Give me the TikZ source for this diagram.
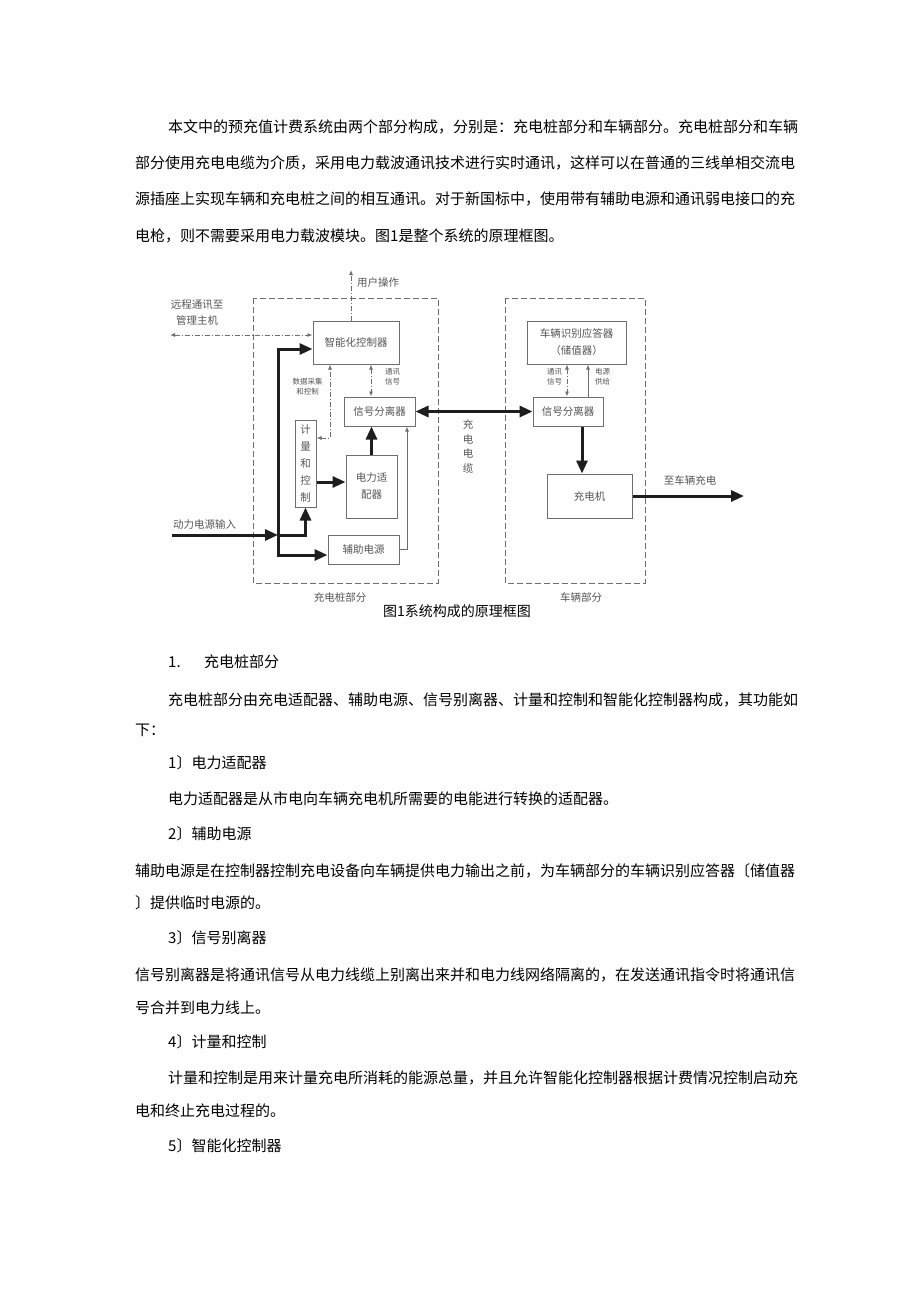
\documentclass[tikz,border=0pt]{standalone}
\usepackage{fontspec}
\setmainfont{Noto Sans CJK SC}
\usepackage{xcolor}
\usepackage{tikz}
\usetikzlibrary{arrows.meta}

\definecolor{linegray}{HTML}{6E6E6E}
\definecolor{textgray}{HTML}{555555}
\definecolor{darkline}{HTML}{1E1E1E}
\newcommand{\bodytext}{\fontsize{15}{18}\selectfont}
\newcommand{\diagtext}{\fontsize{10.5}{17}\selectfont}
\newcommand{\cabletext}{\fontsize{10.5}{14.5}\selectfont}
\newcommand{\notetext}{\fontsize{7.5}{10}\selectfont}
\newcommand{\captext}{\fontsize{14}{17}\selectfont}

\begin{document}
\begin{tikzpicture}[x=1pt,y=-1pt,
  bigtip/.tip={Triangle[length=13pt,width=11pt]},
  smalltip/.tip={Latex[length=5pt,width=4pt]},
  box/.style={draw=linegray,line width=1pt,inner sep=0pt,text=textgray,font=\diagtext,align=center},
  part/.style={draw=linegray,line width=1pt,dash pattern=on 6pt off 3pt},
  power/.style={draw=darkline,line width=3pt},
  commline/.style={draw=linegray,line width=0.9pt,dash pattern=on 5pt off 2pt on 1pt off 2pt},
  supply/.style={draw=linegray,line width=0.9pt},
  diaglabel/.style={text=textgray,font=\diagtext,inner sep=0pt,align=center},
  note/.style={text=textgray,font=\notetext,inner sep=0pt,align=center},
  para/.style={anchor=west,inner sep=0pt,font=\bodytext}]
  \path[fill=white] (0,0) rectangle (920,1303);
  \useasboundingbox (0,0) rectangle (920,1303);

  % text above the figure
  \node[para] (p1) at (168,127) {本文中的预充值计费系统由两个部分构成，分别是：充电桩部分和车辆部分。充电桩部分和车辆};
  \node[para] (p2) at (135,163) {部分使用充电电缆为介质，采用电力载波通讯技术进行实时通讯，这样可以在普通的三线单相交流电};
  \node[para] (p3) at (135,199) {源插座上实现车辆和充电桩之间的相互通讯。对于新国标中，使用带有辅助电源和通讯弱电接口的充};
  \node[para] (p4) at (135,236) {电枪，则不需要采用电力载波模块。图1是整个系统的原理框图。};

  % the two parts
  \draw[part] (253,298) rectangle (438,583);
  \draw[part] (505,298) rectangle (645,583);
  \node[diaglabel] (pilepart) at (340,597) {充电桩部分};
  \node[diaglabel] (carpart) at (581,597) {车辆部分};

  % boxes
  \node[box,minimum width=86pt,minimum height=43pt] (ctrl) at (356,342.5) {智能化控制器};
  \node[box,minimum width=71pt,minimum height=29pt] (sepL) at (379.5,411.5) {信号分离器};
  \node[box,minimum width=21pt,minimum height=87pt] (meter) at (305.5,463.5) {计\\量\\和\\控\\制};
  \node[box,minimum width=51pt,minimum height=63pt] (adapt) at (371.5,486.5) {电力适\\配器};
  \node[box,minimum width=71pt,minimum height=29pt] (aux) at (363.5,549.5) {辅助电源};
  \node[box,minimum width=99pt,minimum height=43pt] (ident) at (576.5,342.5) {车辆识别应答器\\（储值器）};
  \node[box,minimum width=70pt,minimum height=29pt] (sepR) at (568,411.5) {信号分离器};
  \node[box,minimum width=85pt,minimum height=44pt] (charger) at (589.5,496) {充电机};

  % labels
  \node[diaglabel,anchor=west] (userop) at (357,283) {用户操作};
  \node[diaglabel,font=\fontsize{10.5}{16}\selectfont] (host) at (197,313) {远程通讯至\\管理主机};
  \node[note] (datalbl) at (307.5,387) {数据采集\\和控制};
  \node[note] (comlblL) at (392.5,377) {通讯\\信号};
  \node[note] (comlblR) at (554.5,377) {通讯\\信号};
  \node[note] (pwrlbl) at (602.5,377) {电源\\供给};
  \node[diaglabel,font=\cabletext] (cable) at (468,446.5) {充\\电\\电\\缆};
  \node[diaglabel] (tocar) at (690,480) {至车辆充电};
  \node[diaglabel,anchor=west] (powinlbl) at (173,525) {动力电源输入};
  \node[inner sep=0pt,font=\captext] (caption) at (457,611) {图1系统构成的原理框图};

  % coordinates for the connectors
  \coordinate (user) at (351,270);
  \coordinate (remote) at (170,335);
  \coordinate (bustop) at (278,349);
  \coordinate (busbot) at (278,555);
  \coordinate (powin) at (172,535);
  \coordinate (mtr) at (0,482);
  \coordinate (dat) at (330,438);
  \coordinate (com) at (371,0);
  \coordinate (comv) at (567,0);
  \coordinate (pwrv) at (588,0);
  \coordinate (auxup) at (407,0);
  \coordinate (dn) at (582,0);
  \coordinate (out) at (744,496);

  % power lines
  \draw[power,bigtip-bigtip] (busbot -| aux.west) -- (busbot) -- (bustop) -- (bustop -| ctrl.west);
  \draw[power,-bigtip] (powin) -- (powin -| bustop);
  \draw[power,-bigtip] (powin -| bustop) -- (powin -| meter.south) -- (meter.south);
  \draw[power,-bigtip] (meter.east |- mtr) -- (adapt.west |- mtr);
  \draw[power,-bigtip] (adapt.north) -- (adapt.north |- sepL.south);
  \draw[power,bigtip-bigtip] (sepL.east) -- (sepR.west);
  \draw[power,-bigtip] (dn |- sepR.south) -- (dn |- charger.north);
  \draw[power,-bigtip] (charger.east) -- (out);

  % signal lines
  \draw[commline,-smalltip] (user |- ctrl.north) -- (user);
  \draw[commline,smalltip-smalltip] (remote) -- (remote -| ctrl.west);
  \draw[commline,smalltip-smalltip] (meter.east |- dat) -- (dat) -- (dat |- ctrl.south);
  \draw[commline,smalltip-smalltip] (com |- ctrl.south) -- (com |- sepL.north);
  \draw[commline,smalltip-smalltip] (comv |- ident.south) -- (comv |- sepR.north);
  \draw[supply,-smalltip] (aux.east) -| (auxup |- sepL.south);
  \draw[supply,-smalltip] (pwrv |- sepR.north) -- (pwrv |- ident.south);

  % text below the figure
  \node[para] (h1num) at (168,662) {1.};
  \node[para] (h1) at (204,662) {充电桩部分};
  \node[para] (q1) at (168,700) {充电桩部分由充电适配器、辅助电源、信号别离器、计量和控制和智能化控制器构成，其功能如};
  \node[para] (q2) at (135,730) {下：};
  \node[para] (s1) at (168,763) {1〕电力适配器};
  \node[para] (t1) at (168,799) {电力适配器是从市电向车辆充电机所需要的电能进行转换的适配器。};
  \node[para] (s2) at (168,834) {2〕辅助电源};
  \node[para] (t2a) at (135,871) {辅助电源是在控制器控制充电设备向车辆提供电力输出之前，为车辆部分的车辆识别应答器〔储值器};
  \node[para] (t2b) at (135,903) {〕提供临时电源的。};
  \node[para] (s3) at (168,938) {3〕信号别离器};
  \node[para] (t3a) at (135,975) {信号别离器是将通讯信号从电力线缆上别离出来并和电力线网络隔离的，在发送通讯指令时将通讯信};
  \node[para] (t3b) at (135,1008) {号合并到电力线上。};
  \node[para] (s4) at (168,1042) {4〕计量和控制};
  \node[para] (t4a) at (168,1078) {计量和控制是用来计量充电所消耗的能源总量，并且允许智能化控制器根据计费情况控制启动充};
  \node[para] (t4b) at (135,1111) {电和终止充电过程的。};
  \node[para] (s5) at (168,1146) {5〕智能化控制器};
\end{tikzpicture}
\end{document}
